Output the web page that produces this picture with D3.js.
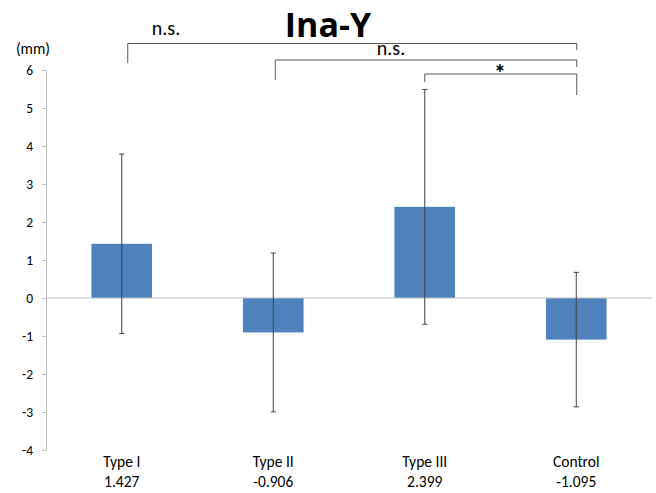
<!DOCTYPE html>
<html>
<head>
<meta charset="utf-8">
<script src="https://cdn.jsdelivr.net/npm/d3@7"></script>
<style>
  body { margin: 0; background: #fff; }
  svg { font-family: Carlito, Lato, sans-serif; }
</style>
</head>
<body>
<div id="chart"></div>
<script>
const categories = ['Type I', 'Type II', 'Type III', 'Control'];
const means = [1.427, -0.906, 2.399, -1.095];
const sds = [2.36, 2.09, 3.09, 1.77];
const yTicks = [-4, -3, -2, -1, 0, 1, 2, 3, 4, 5, 6];
// comparisons drawn as brackets over the bars
const pairs = [['Type I', 'Control'], ['Type II', 'Control'], ['Type III', 'Control']];
const marks = ['n.s.', 'n.s.', '*'];

const width = 656;
const height = 493;
const plotLeft = 46, plotRight = 652, plotTop = 70, plotBottom = 450;

const svg = d3.select('#chart').append('svg')
  .attr('width', width)
  .attr('height', height);

const xScale = d3.scaleBand()
  .domain(categories)
  .range([plotLeft, plotRight])
  .paddingInner(0.6)
  .paddingOuter(0.3);

const yScale = d3.scaleLinear()
  .domain([-4, 6])
  .range([plotBottom, plotTop]);

const cx = (c) => xScale(c) + xScale.bandwidth() / 2;

// y axis
const yAxis = svg.append('g')
  .attr('transform', `translate(${plotLeft},0)`)
  .call(d3.axisLeft(yScale).tickValues(yTicks).tickSize(4).tickPadding(9).tickFormat((d) => String(d)));
yAxis.select('.domain').attr('stroke', '#bfbfbf');
yAxis.selectAll('.tick line').attr('stroke', '#bfbfbf');
yAxis.selectAll('.tick text')
  .attr('font-size', '13.5px')
  .attr('fill', '#000')
  .style('font-family', 'Carlito, Lato, sans-serif');

// bars
svg.selectAll('rect.bar')
  .data(means)
  .enter()
  .append('rect')
  .attr('class', 'bar')
  .attr('x', (d, i) => xScale(categories[i]))
  .attr('y', (d) => yScale(Math.max(0, d)))
  .attr('width', xScale.bandwidth())
  .attr('height', (d) => Math.abs(yScale(d) - yScale(0)))
  .attr('fill', '#4f81bd');

// zero line
svg.append('line')
  .attr('x1', plotLeft).attr('x2', plotRight)
  .attr('y1', yScale(0)).attr('y2', yScale(0))
  .attr('stroke', '#bfbfbf')
  .attr('stroke-width', 1.2);

// error bars
const err = svg.append('g').attr('stroke', '#404040').attr('stroke-width', 1);
means.forEach((m, i) => {
  const x = cx(categories[i]);
  const hi = yScale(m + sds[i]);
  const lo = yScale(m - sds[i]);
  err.append('line').attr('x1', x).attr('x2', x).attr('y1', hi).attr('y2', lo);
  err.append('line').attr('x1', x - 2.5).attr('x2', x + 2.5).attr('y1', hi).attr('y2', hi);
  err.append('line').attr('x1', x - 2.5).attr('x2', x + 2.5).attr('y1', lo).attr('y2', lo);
});

// category labels and mean values
categories.forEach((c, i) => {
  svg.append('text')
    .attr('x', cx(c)).attr('y', 467)
    .attr('text-anchor', 'middle')
    .attr('font-size', '15.5px')
    .text(c);
  svg.append('text')
    .attr('x', cx(c)).attr('y', 487)
    .attr('text-anchor', 'middle')
    .attr('font-size', '15.5px')
    .text(means[i].toFixed(3));
});

// significance brackets
const bracketY = [43.5, 60, 74];
const leftLeg = [63, 80, 82];
const rightLeg = [50, 67, 95];
const leftShift = [6, 2, 0];
const br = svg.append('g').attr('stroke', '#595959').attr('stroke-width', 1).attr('fill', 'none');
pairs.forEach((p, i) => {
  const x1 = cx(p[0]) + leftShift[i];
  const x2 = cx(p[1]) + 0.5;
  br.append('path')
    .attr('d', `M${x1},${leftLeg[i]}V${bracketY[i]}H${x2}V${rightLeg[i]}`);
});
const labelX = [166, 391, 500];
const labelY = [35, 55, 81];
marks.forEach((t, i) => {
  svg.append('text')
    .attr('x', labelX[i]).attr('y', labelY[i])
    .attr('text-anchor', 'middle')
    .attr('font-size', t === '*' ? '24px' : '20px')
    .attr('font-weight', t === '*' ? 'bold' : 'normal')
    .text(t);
});

// unit label
svg.append('text')
  .attr('x', 33).attr('y', 54)
  .attr('text-anchor', 'middle')
  .attr('font-size', '15.5px')
  .text('(mm)');

// title
svg.append('text')
  .attr('x', 328).attr('y', 37)
  .attr('text-anchor', 'middle')
  .attr('font-size', '34px')
  .attr('font-weight', 'bold')
  .style('font-family', '"Open Sans", Lato, sans-serif')
  .text('Ina-Y');
</script>
</body>
</html>
